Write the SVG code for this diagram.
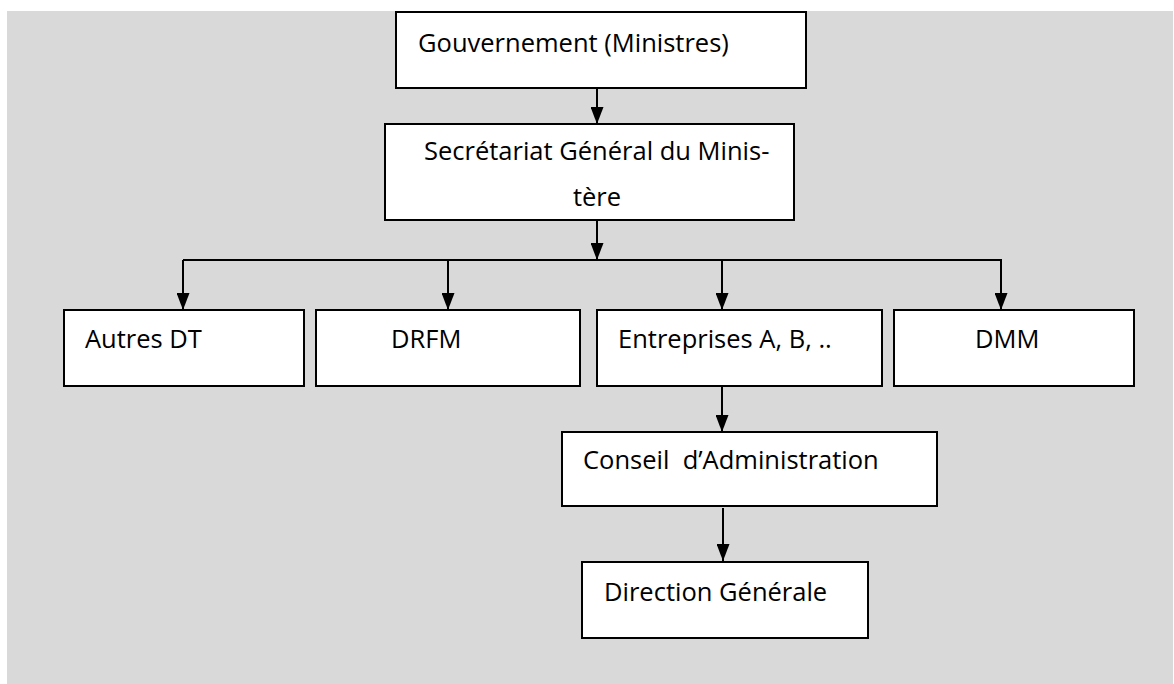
<svg xmlns="http://www.w3.org/2000/svg" width="1174" height="684" viewBox="0 0 1174 684">
<style>
.box{fill:#ffffff;stroke:#000000;stroke-width:2}
.lbl{font-family:"Open Sans","Liberation Sans",sans-serif;font-size:25.5px;fill:#000000;white-space:pre}
.con{fill:none;stroke:#000000;stroke-width:2}
</style>
<defs>
<marker id="ah" markerUnits="userSpaceOnUse" markerWidth="17" markerHeight="13" refX="17" refY="6.5" orient="auto" viewBox="0 0 17 13">
<path d="M0,0 L17,6.5 L0,13 Z" fill="#000000"/>
</marker>
</defs>
<rect x="7" y="11" width="1166" height="673" fill="#d9d9d9"/>
<g id="connectors">
<line class="con" x1="597" y1="88" x2="597" y2="124" marker-end="url(#ah)"/>
<line class="con" x1="597" y1="220" x2="597" y2="260" marker-end="url(#ah)"/>
<line class="con" x1="183" y1="260" x2="1002" y2="260"/>
<line class="con" x1="183" y1="260" x2="183" y2="310" marker-end="url(#ah)"/>
<line class="con" x1="448" y1="260" x2="448" y2="310" marker-end="url(#ah)"/>
<line class="con" x1="722" y1="260" x2="722" y2="310" marker-end="url(#ah)"/>
<line class="con" x1="1001" y1="260" x2="1001" y2="310" marker-end="url(#ah)"/>
<line class="con" x1="722" y1="386" x2="722" y2="432" marker-end="url(#ah)"/>
<line class="con" x1="723" y1="508" x2="723" y2="561" marker-end="url(#ah)"/>
</g>
<g id="gouvernement">
<rect class="box" x="396" y="12" width="410" height="76"/>
<text class="lbl" x="418" y="52">Gouvernement (Ministres)</text>
</g>
<g id="secretariat">
<rect class="box" x="385" y="124" width="409" height="96"/>
<text class="lbl" x="424" y="160">Secrétariat Général du Minis-</text>
<text class="lbl" x="597" y="206" text-anchor="middle">tère</text>
</g>
<g id="autres-dt">
<rect class="box" x="64" y="310" width="240" height="76"/>
<text class="lbl" x="85" y="348">Autres DT</text>
</g>
<g id="drfm">
<rect class="box" x="316" y="310" width="264" height="76"/>
<text class="lbl" x="391" y="348">DRFM</text>
</g>
<g id="entreprises">
<rect class="box" x="597" y="310" width="285" height="76"/>
<text class="lbl" x="618" y="348">Entreprises A, B, ..</text>
</g>
<g id="dmm">
<rect class="box" x="894" y="310" width="240" height="76"/>
<text class="lbl" x="975" y="348">DMM</text>
</g>
<g id="conseil">
<rect class="box" x="562" y="432" width="375" height="74"/>
<text class="lbl" x="583" y="469">Conseil  d’Administration</text>
</g>
<g id="direction">
<rect class="box" x="582" y="562" width="286" height="76"/>
<text class="lbl" x="604" y="601">Direction Générale</text>
</g>
</svg>
